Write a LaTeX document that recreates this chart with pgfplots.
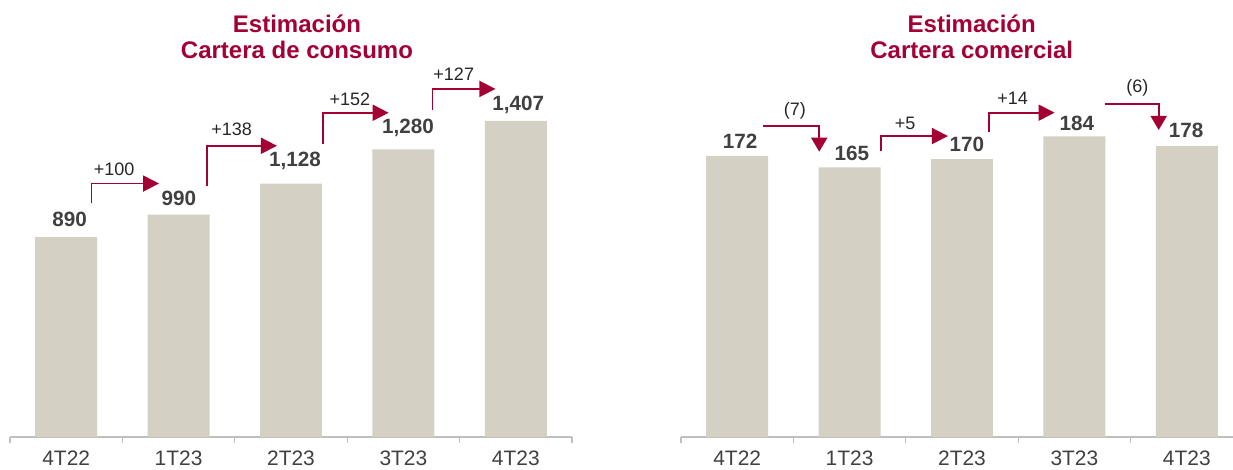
\documentclass[border=0pt]{standalone}
\usepackage{fontspec}
\setmainfont{Liberation Sans}
\usepackage{pgfplots}
\pgfplotsset{compat=1.18}
\usetikzlibrary{arrows.meta}
\definecolor{titlered}{RGB}{163,0,52}
\definecolor{barfill}{RGB}{212,208,196}
\definecolor{axisgray}{RGB}{191,191,191}
\definecolor{valgray}{RGB}{64,64,64}
\definecolor{deltagray}{RGB}{38,38,38}

\pgfplotsset{
  base/.style={
    scale only axis, width=421.5pt, height=286.5pt,
    ymin=0, xmin=-0.5, xmax=4.5,
    axis x line=bottom, axis y line=none,
    axis line style={-},
    every outer x axis line/.append style={-},
    every inner x axis line/.append style={-},
    x axis line style={draw=axisgray, line width=1pt, -},
    xtick={0,1,2,3,4}, xticklabels={4T22,1T23,2T23,3T23,4T23},
    major x tick style={draw=none},
    minor xtick={-0.5,0.5,1.5,2.5,3.5,4.5},
    minor x tick style={draw=axisgray, line width=1pt},
    tick align=outside, minor tick length=4.5pt, major tick length=0pt,
    xticklabel style={anchor=base, yshift=-21pt, inner sep=0pt,
      font=\fontsize{15.7}{18}\selectfont, text=valgray},
    ybar, bar width=0.551, clip=false,
  },
}
\tikzset{
  val/.style={anchor=base, inner sep=0pt, font=\fontsize{15.5}{18}\selectfont\bfseries, text=valgray},
  delta/.style={anchor=base, inner sep=0pt, font=\fontsize{13.5}{16}\selectfont, text=deltagray},
  arr/.style={draw=titlered, line width=1.3pt, -{Triangle[length=12pt,width=12pt]}},
  darr/.style={draw=titlered, line width=1.3pt, -{Triangle[length=10.5pt,width=12pt]}},
}

\begin{document}
\begin{tikzpicture}
% ---------- Left: Cartera de consumo ----------
\begin{axis}[base, at={(7.5pt,24pt)}, anchor=south west, ymax=1700]
  \addplot[fill=barfill, draw=none] coordinates {(0,890) (1,990) (2,1128) (3,1280) (4,1407)};
  \node[val] at (axis cs:0.03,936) {890};
  \node[val] at (axis cs:1.003,1029) {990};
  \node[val] at (axis cs:2.036,1203) {1,128};
  \node[val] at (axis cs:3.041,1352) {1,280};
  \node[val] at (axis cs:4.022,1452) {1,407};
  \draw[arr] (axis cs:0.225,1040) |- (axis cs:0.826,1128);
  \draw[arr] (axis cs:1.25,1118) |- (axis cs:1.875,1296);
  \draw[arr] (axis cs:2.282,1303) |- (axis cs:2.869,1443);
  \draw[arr] (axis cs:3.259,1455) |- (axis cs:3.819,1549);
  \node[delta] at (axis cs:0.427,1163) {+100};
  \node[delta] at (axis cs:1.472,1340) {+138};
  \node[delta] at (axis cs:2.523,1474) {+152};
  \node[delta] at (axis cs:3.448,1586) {+127};
\end{axis}
% ---------- Right: Cartera comercial ----------
\begin{axis}[base, at={(510.75pt,24pt)}, anchor=south west, ymax=233.8]
  \addplot[fill=barfill, draw=none] coordinates {(0,172) (1,165) (2,170) (3,184) (4,178)};
  \node[val] at (axis cs:0.025,176.7) {172};
  \node[val] at (axis cs:1.021,169.1) {165};
  \node[val] at (axis cs:2.043,174.6) {170};
  \node[val] at (axis cs:3.021,187.3) {184};
  \node[val] at (axis cs:3.993,183.2) {178};
  \draw[darr] (axis cs:0.227,190.5) -| (axis cs:0.730,174.6);
  \draw[arr] (axis cs:1.279,175.0) |- (axis cs:1.875,184.2);
  \draw[arr] (axis cs:2.243,186.8) |- (axis cs:2.824,198.5);
  \draw[darr] (axis cs:3.272,203.6) -| (axis cs:3.750,187.9);
  \node[delta] at (axis cs:0.514,196.5) {(7)};
  \node[delta] at (axis cs:1.493,188.5) {+5};
  \node[delta] at (axis cs:2.450,203.8) {+14};
  \node[delta] at (axis cs:3.560,210.7) {(6)};
\end{axis}
% ---------- Titles ----------
\node[anchor=base, inner sep=0pt, text=titlered, font=\fontsize{18}{21}\selectfont\bfseries] at (222.75pt,327.5pt) {Estimación};
\node[anchor=base, inner sep=0pt, text=titlered, font=\fontsize{18}{21}\selectfont\bfseries] at (222.75pt,308pt) {Cartera de consumo};
\node[anchor=base, inner sep=0pt, text=titlered, font=\fontsize{18}{21}\selectfont\bfseries] at (728.8pt,327.5pt) {Estimación};
\node[anchor=base, inner sep=0pt, text=titlered, font=\fontsize{18}{21}\selectfont\bfseries] at (728.8pt,308pt) {Cartera comercial};
\pgfresetboundingbox
\path[use as bounding box] (0,0) rectangle (924.75pt,351.75pt);
\end{tikzpicture}
\end{document}
